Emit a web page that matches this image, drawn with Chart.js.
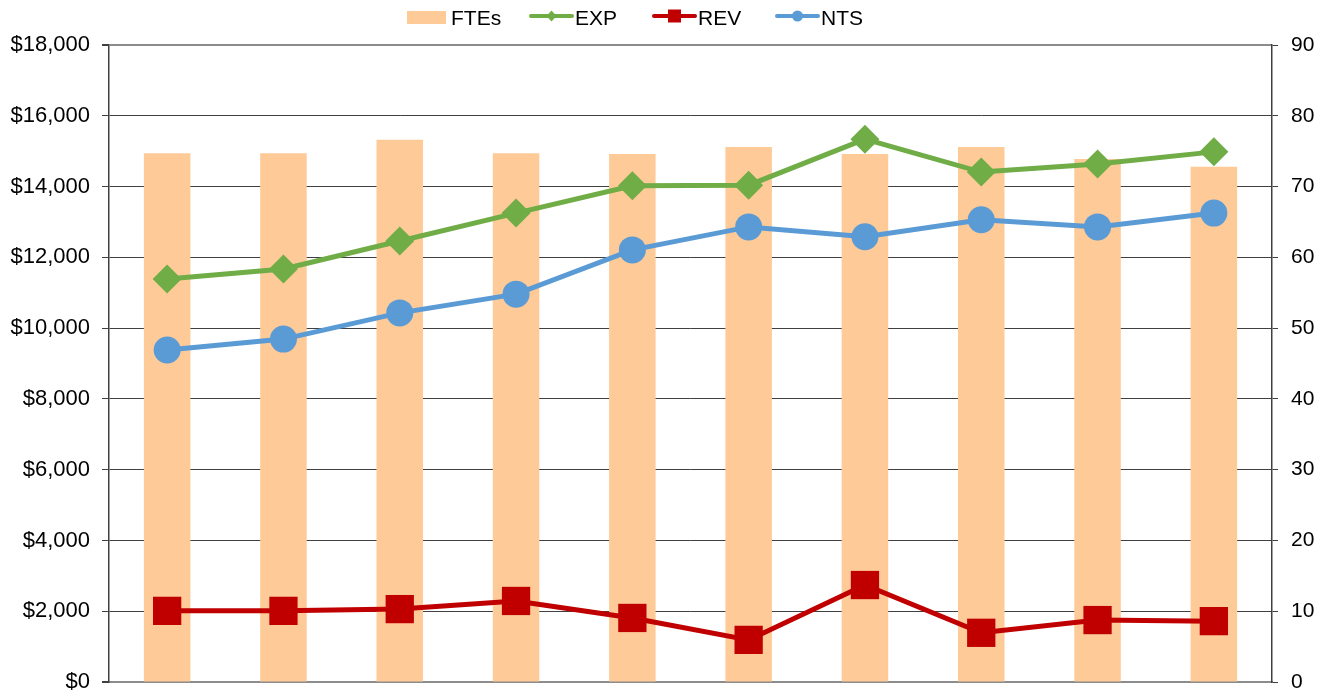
<!DOCTYPE html>
<html>
<head>
<meta charset="utf-8">
<script src="https://cdn.jsdelivr.net/npm/chart.js@4.4.0/dist/chart.umd.min.js"></script>
<style>
  html, body { margin: 0; padding: 0; background: #ffffff; }
  #wrap { width: 1329px; height: 694px; position: relative; }
</style>
</head>
<body>
<div id="wrap"><canvas id="c" width="1329" height="694"></canvas></div>
<script>
// ---- data ----
const categories = ['1', '2', '3', '4', '5', '6', '7', '8', '9', '10'];
const ftes = [74.7, 74.7, 76.6, 74.7, 74.6, 75.6, 74.6, 75.6, 73.9, 72.8];
const exp  = [11390, 11670, 12460, 13250, 14020, 14040, 15340, 14410, 14640, 14980];
const rev  = [2010, 2010, 2060, 2290, 1810, 1190, 2740, 1390, 1750, 1720];
const nts  = [9380, 9690, 10430, 10960, 12210, 12860, 12580, 13060, 12860, 13250];
const seriesNames = ['FTEs', 'EXP', 'REV', 'NTS'];
const leftTicks = [0, 2000, 4000, 6000, 8000, 10000, 12000, 14000, 16000, 18000];
const rightTicks = [0, 10, 20, 30, 40, 50, 60, 70, 80, 90];

// ---- styles ----
const C_BAR = '#FDCA98';
const C_EXP = '#70AD47';
const C_REV = '#C00000';
const C_NTS = '#5B9BD5';
const FONT = "'Liberation Sans', Arial, sans-serif";
const DARK = '#404040';
const GREY = '#8C8C8C';

const legendPlugin = {
  id: 'customLegend',
  afterDraw(chart) {
    const ctx = chart.ctx;
    const startX = 407, slot = 123, lineY = 16;
    ctx.save();
    ctx.font = '21px ' + FONT;
    ctx.fillStyle = '#000';
    ctx.textBaseline = 'alphabetic';
    const kinds = [
      {color: C_BAR, type: 'box'},
      {color: C_EXP, type: 'diamond'},
      {color: C_REV, type: 'square'},
      {color: C_NTS, type: 'circle'}
    ];
    kinds.forEach((k, i) => {
      const x0 = startX + i * slot;
      if (k.type === 'box') {
        ctx.fillStyle = k.color;
        ctx.fillRect(x0, 11, 39, 13);
      } else {
        ctx.strokeStyle = k.color;
        ctx.lineWidth = 4;
        ctx.lineCap = 'round';
        ctx.beginPath();
        ctx.moveTo(x0 + 1, lineY);
        ctx.lineTo(x0 + 42, lineY);
        ctx.stroke();
        ctx.fillStyle = k.color;
        const cx = x0 + 21.5;
        ctx.beginPath();
        if (k.type === 'diamond') {
          ctx.moveTo(cx, lineY - 5.5); ctx.lineTo(cx + 5, lineY);
          ctx.lineTo(cx, lineY + 5.5); ctx.lineTo(cx - 5, lineY);
          ctx.closePath();
        } else if (k.type === 'square') {
          ctx.rect(cx - 6.5, lineY - 6.5, 13, 13);
        } else {
          ctx.arc(cx, lineY, 5.5, 0, Math.PI * 2);
        }
        ctx.fill();
      }
      ctx.fillStyle = '#000';
      ctx.fillText(seriesNames[i], x0 + (k.type === 'box' ? 44 : 45), 25);
    });
    ctx.restore();
  }
};

const ctx = document.getElementById('c').getContext('2d');
new Chart(ctx, {
  data: {
    labels: categories,
    datasets: [
      {
        type: 'line', label: seriesNames[1], data: exp, yAxisID: 'y', order: 2,
        borderColor: C_EXP, backgroundColor: C_EXP, borderWidth: 5,
        pointStyle: 'rectRot', pointRadius: 14.5, pointBorderWidth: 0,
        pointBackgroundColor: C_EXP, tension: 0
      },
      {
        type: 'line', label: seriesNames[2], data: rev, yAxisID: 'y', order: 3,
        borderColor: C_REV, backgroundColor: C_REV, borderWidth: 5,
        pointStyle: 'rect', pointRadius: 20, pointBorderWidth: 0,
        pointBackgroundColor: C_REV, tension: 0
      },
      {
        type: 'line', label: seriesNames[3], data: nts, yAxisID: 'y', order: 1,
        borderColor: C_NTS, backgroundColor: C_NTS, borderWidth: 5,
        pointStyle: 'circle', pointRadius: 13.5, pointBorderWidth: 0,
        pointBackgroundColor: C_NTS, tension: 0
      },
      {
        type: 'bar', label: seriesNames[0], data: ftes, yAxisID: 'y1', order: 10,
        backgroundColor: C_BAR, borderWidth: 0,
        barPercentage: 0.4, categoryPercentage: 1.0
      }
    ]
  },
  options: {
    responsive: false,
    animation: false,
    events: [],
    layout: { autoPadding: false, padding: { top: 45, bottom: 12, left: 0, right: 0 } },
    plugins: {
      legend: { display: false },
      tooltip: { enabled: false },
      title: { display: false }
    },
    scales: {
      x: {
        type: 'category',
        offset: true,
        grid: { display: false, drawTicks: false },
        border: { display: true, color: GREY, width: 2 },
        ticks: { display: false },
        afterFit(s) { s.height = 0; }
      },
      y: {
        type: 'linear',
        position: 'left',
        min: 0, max: 18000,
        afterBuildTicks(s) { s.ticks = leftTicks.map(v => ({value: v})); },
        ticks: {
          color: '#000',
          font: { family: FONT, size: 22 },
          padding: 12,
          callback: (v) => '$' + Number(v).toLocaleString('en-US')
        },
        grid: {
          color: (c) => (c.tick && (c.tick.value === 18000 || c.tick.value === 0)) ? GREY : DARK,
          lineWidth: (c) => (c.tick && (c.tick.value === 18000 || c.tick.value === 0)) ? 2 : 1,
          tickColor: DARK,
          tickLength: 7,
          drawTicks: true
        },
        border: { display: true, color: DARK, width: 1.5 },
        afterFit(s) { s.width = 109; s.paddingTop = 0; s.paddingBottom = 0; }
      },
      y1: {
        type: 'linear',
        position: 'right',
        min: 0, max: 90,
        afterBuildTicks(s) { s.ticks = rightTicks.map(v => ({value: v})); },
        ticks: {
          color: '#000',
          font: { family: FONT, size: 21 },
          padding: 13
        },
        grid: {
          drawOnChartArea: false,
          tickColor: DARK,
          tickLength: 6,
          drawTicks: true
        },
        border: { display: true, color: DARK, width: 1.5 },
        afterFit(s) { s.width = 57; s.paddingTop = 0; s.paddingBottom = 0; }
      }
    }
  },
  plugins: [legendPlugin]
});
</script>
</body>
</html>
